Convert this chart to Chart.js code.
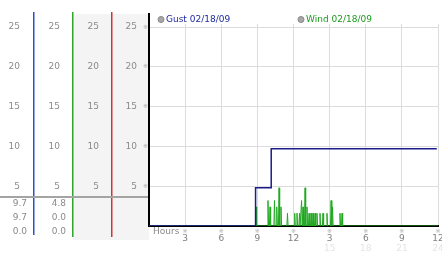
<!DOCTYPE html>
<html>
<head>
<meta charset="utf-8">
<script src="https://cdn.jsdelivr.net/npm/chart.js@4/dist/chart.umd.min.js"></script>
<style>
  html, body { margin: 0; padding: 0; background: #fff; }
  #wrap { position: relative; width: 442px; height: 253px; }
</style>
</head>
<body>
<div id="wrap"><canvas id="wind-chart" width="442" height="253"></canvas></div>
<script>
// values (hours since midnight, mph)
const gustHours = [0, 8.85, 10.15, 23.9];
const gustValues = [0, 4.8, 9.7, 9.7];

const windHours = [8.89, 9.88, 10.05, 10.42, 10.61, 10.80, 10.96, 11.50, 12.10, 12.29, 12.50,
    12.67, 12.79, 12.96, 13.12, 13.29, 13.46, 13.62, 13.79, 13.95, 14.20, 14.45, 14.78,
    15.12, 15.24, 15.86, 16.03];
const windPeaks = [2.4, 3.2, 2.4, 3.2, 2.4, 4.8, 2.4, 1.6, 1.6, 1.6, 1.6,
    3.2, 2.4, 4.8, 2.4, 1.6, 1.6, 1.6, 1.6, 1.6, 1.6, 1.6, 1.6,
    3.2, 2.4, 1.6, 1.6];

const xTickLabels = ['3', '6', '9', '12', '3', '6', '9', '12'];
const xTickLabels24 = ['', '', '', '', '15', '18', '21', '24'];

const gustStats = ['9.7', '9.7', '0.0'];
const windStats = ['4.8', '0.0', '0.0'];

const gustLabel = 'Gust 02/18/09';
const windLabel = 'Wind 02/18/09';

let gustData = gustHours.map((h, i) => ({x: h, y: gustValues[i]}));

let windData = [{x: 0, y: 0}];
windHours.forEach((h, i) => {
    windData.push({x: h - 0.05, y: 0});
    windData.push({x: h, y: windPeaks[i]});
    windData.push({x: h + 0.05, y: 0});
});
windData.push({x: 24, y: 0});

const font = '9px "DejaVu Sans"';

const panels = {
    id: 'panels',
    beforeDraw(chart) {
        const ctx = chart.ctx;
        const yScale = chart.scales.y;
        const xScale = chart.scales.x;
        const area = chart.chartArea;
        ctx.save();
        // grey columns
        ctx.fillStyle = '#f4f4f4';
        ctx.fillRect(73, 14, area.left - 73, 226);

        // column separators
        [[33, '#2a50cc', 235], [72, '#2ea62e', 237], [111, '#d43232', 237]].forEach(c => {
            ctx.fillStyle = c[1];
            ctx.fillRect(c[0], 12, 1.5, c[2] - 12);
        });

        ctx.fillStyle = '#a4a4a4';
        ctx.fillRect(0, 196, area.left, 2);

        // y labels in every column
        ctx.font = font;
        ctx.fillStyle = '#8a8a8a';
        ctx.textAlign = 'right';
        ctx.textBaseline = 'middle';
        yScale.ticks.forEach(t => {
            if (t.value === 0) return;
            const py = yScale.getPixelForValue(t.value);
            [20, 60, 99, 137].forEach(cx => ctx.fillText(String(t.value), cx, py));
            ctx.save();
            ctx.font = '6px "DejaVu Sans"';
            ctx.fillStyle = '#aaa';
            ctx.textAlign = 'center';
            ctx.fillText('※', 145.5, py);
            ctx.restore();
        });

        // stats under the line
        [204, 218, 232].forEach((py, i) => {
            ctx.fillText(gustStats[i], 27, py);
            ctx.fillText(windStats[i], 66, py);
        });

        // x labels
        ctx.textAlign = 'center';
        xScale.ticks.forEach(t => {
            if (t.value === 0) return;
            const px = xScale.getPixelForValue(t.value);
            const k = t.value / 3 - 1;
            ctx.save();
            ctx.font = '6px "DejaVu Sans"';
            ctx.fillStyle = '#aaa';
            ctx.fillText('※', px, area.bottom + 5);
            ctx.restore();
            ctx.fillStyle = '#808080';
            ctx.fillText(xTickLabels[k], px, area.bottom + 13);
            ctx.fillStyle = '#e4e4e4';
            ctx.fillText(xTickLabels24[k], px, area.bottom + 23);
        });
        ctx.fillStyle = '#8a8a8a';
        ctx.textAlign = 'left';
        ctx.fillText('Hours', area.left + 4, area.bottom + 6);
        ctx.restore();
    },
    afterDraw(chart) {
        const ctx = chart.ctx;
        const area = chart.chartArea;
        ctx.save();
        // axis line reaches above the grid
        ctx.strokeStyle = '#000';
        ctx.lineWidth = 2;
        ctx.beginPath();
        ctx.moveTo(area.left, 13);
        ctx.lineTo(area.left, area.top + 1);
        ctx.stroke();

        // legend
        ctx.font = font;
        ctx.textBaseline = 'middle';
        ctx.textAlign = 'left';
        [[161, chart.data.datasets[0]], [301, chart.data.datasets[1]]].forEach(l => {
            ctx.fillStyle = '#a8a8a8';
            ctx.strokeStyle = '#888';
            ctx.lineWidth = 1;
            ctx.beginPath();
            ctx.arc(l[0], 19.5, 3, 0, Math.PI * 2);
            ctx.fill();
            ctx.stroke();
            ctx.fillStyle = l[1].legendColor;
            ctx.fillText(l[1].label, l[0] + 5, 19.5);
        });
        ctx.restore();
    }
};

const windChartField = document.getElementById('wind-chart');
const windChart = new Chart(windChartField, {
        type: 'line',
        data: {
            datasets: [{
                label: gustLabel,
                data: gustData,
                borderColor: '#1c1c8e',
                legendColor: '#1e2aa0',
                borderWidth: 1.5,
                stepped: true,
                pointRadius: 0,
                order: 1
            }, {
                label: windLabel,
                data: windData,
                borderColor: '#22a822',
                legendColor: '#1c9a1c',
                borderWidth: 1,
                tension: 0,
                pointRadius: 0,
                order: 2
            }]
        },
        options: {
            responsive: false,
            animation: false,
            layout: {
                padding: {left: 149, right: 4, top: 24, bottom: 27}
            },
            plugins: {
                legend: {display: false},
                tooltip: {enabled: false}
            },
            scales: {
                x: {
                    type: 'linear',
                    min: 0,
                    max: 24,
                    ticks: {display: false, stepSize: 3},
                    grid: {color: '#dcdcdc', drawTicks: false},
                    border: {color: '#000', width: 2}
                },
                y: {
                    type: 'linear',
                    min: 0,
                    max: 25.38,
                    ticks: {display: false, stepSize: 5, includeBounds: false},
                    grid: {color: '#dcdcdc', drawTicks: false},
                    border: {color: '#000', width: 2}
                }
            }
        },
        plugins: [panels]
    }
);
</script>
</body>
</html>
